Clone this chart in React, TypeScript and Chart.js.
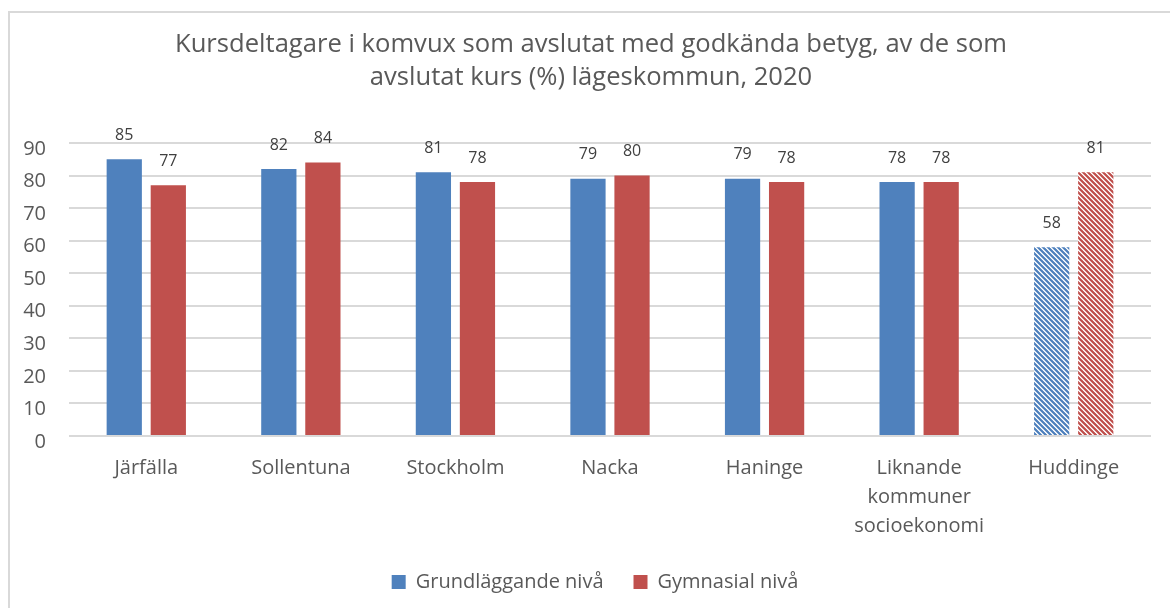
import React, { useEffect, useRef } from "react";
import { Chart, registerables } from "chart.js";

Chart.register(...registerables);

const categories: (string | string[])[] = [
  "Järfälla",
  "Sollentuna",
  "Stockholm",
  "Nacka",
  "Haninge",
  ["Liknande", "kommuner", "socioekonomi"],
  "Huddinge",
];
const grundValues = [85, 82, 81, 79, 79, 78, 58];
const gymnValues = [77, 84, 78, 80, 78, 78, 81];
const seriesNames = ["Grundläggande nivå", "Gymnasial nivå"];
const seriesColors = ["#4F81BD", "#C0504D"];
const hatchedCategory = "Huddinge";
const titleLines = [
  "Kursdeltagare i komvux som avslutat med godkända betyg, av de som",
  "avslutat kurs (%) lägeskommun, 2020",
];
const yMin = 0;
const yMax = 90;
const yStep = 10;

const FONT = "'Open Sans', 'Noto Sans', sans-serif";
const TEXT = "#595959";

function makeHatch(color: string): CanvasPattern | string {
  const n = 5;
  const c = document.createElement("canvas");
  c.width = n;
  c.height = n;
  const g = c.getContext("2d");
  if (!g) return color;
  g.fillStyle = "#ffffff";
  g.fillRect(0, 0, n, n);
  for (let y = 0; y < n; y++) {
    for (let x = 0; x < n; x++) {
      const d = (((x - y) % n) + n) % n;
      if (d < 2) {
        g.globalAlpha = 1;
        g.fillStyle = color;
        g.fillRect(x, y, 1, 1);
      } else if (d === 2) {
        g.globalAlpha = 0.85;
        g.fillStyle = color;
        g.fillRect(x, y, 1, 1);
      } else if (d === 4) {
        g.globalAlpha = 0.3;
        g.fillStyle = color;
        g.fillRect(x, y, 1, 1);
      }
    }
  }
  g.globalAlpha = 1;
  return g.createPattern(c, "repeat") || color;
}

export default function App() {
  const ref = useRef<HTMLCanvasElement | null>(null);

  useEffect(() => {
    if (!ref.current) return;
    const hatchIdx = categories.findIndex((c) => c === hatchedCategory);
    const colorsFor = (col: string) => {
      const pat = makeHatch(col);
      return categories.map((_, i) => (i === hatchIdx ? pat : col));
    };

    const framePlugin = {
      id: "frame",
      beforeDraw(chart: any) {
        const ctx = chart.ctx;
        ctx.save();
        ctx.fillStyle = "#ffffff";
        ctx.fillRect(0, 0, chart.width, chart.height);
        ctx.fillStyle = "#d9d9d9";
        ctx.fillRect(8, 11, 2, chart.height - 11);
        ctx.fillRect(8, 11, chart.width - 8, 2);
        ctx.restore();
      },
    };

    const titlePlugin = {
      id: "customTitle",
      afterDraw(chart: any) {
        const ctx = chart.ctx;
        ctx.save();
        ctx.font = `25.6px ${FONT}`;
        ctx.fillStyle = TEXT;
        ctx.textAlign = "center";
        ctx.textBaseline = "alphabetic";
        ctx.fillText(titleLines[0], 591, 52);
        ctx.fillText(titleLines[1], 591, 85);
        ctx.restore();
      },
    };

    const labelPlugin = {
      id: "valueLabels",
      afterDatasetsDraw(chart: any) {
        const ctx = chart.ctx;
        ctx.save();
        ctx.font = `16px ${FONT}`;
        ctx.fillStyle = "#404040";
        ctx.textAlign = "center";
        ctx.textBaseline = "middle";
        chart.data.datasets.forEach((ds: any, i: number) => {
          const meta = chart.getDatasetMeta(i);
          meta.data.forEach((el: any, j: number) => {
            ctx.fillText(String(ds.data[j]), el.x, el.y - 24);
          });
        });
        ctx.restore();
      },
    };

    const chart = new Chart(ref.current, {
      type: "bar",
      data: {
        labels: categories as any,
        datasets: [
          {
            label: seriesNames[0],
            data: grundValues,
            backgroundColor: colorsFor(seriesColors[0]) as any,
            categoryPercentage: 0.57,
            barPercentage: 0.8,
            yAxisID: "y",
          },
          {
            label: seriesNames[1],
            data: gymnValues,
            backgroundColor: colorsFor(seriesColors[1]) as any,
            categoryPercentage: 0.57,
            barPercentage: 0.8,
            yAxisID: "y",
          },
        ],
      },
      options: {
        animation: false,
        responsive: false,
        maintainAspectRatio: false,
        layout: { padding: { top: 143, right: 0, bottom: 6, left: 20 } },
        plugins: {
          title: { display: false },
          tooltip: { enabled: false },
          legend: {
            display: true,
            position: "bottom",
            labels: {
              boxWidth: 14,
              boxHeight: 14,
              padding: 30,
              color: TEXT,
              font: { family: FONT, size: 20 },
              generateLabels: () =>
                seriesNames.map((name, i) => ({
                  text: name,
                  fillStyle: seriesColors[i],
                  strokeStyle: seriesColors[i],
                  lineWidth: 0,
                  hidden: false,
                  datasetIndex: i,
                  fontColor: TEXT,
                })),
            },
          },
        },
        scales: {
          x: {
            grid: { display: false },
            border: { display: false },
            ticks: {
              color: TEXT,
              font: { family: FONT, size: 20, lineHeight: 1.45 },
              padding: 10,
              maxRotation: 0,
              minRotation: 0,
              autoSkip: false,
            },
            afterFit: (s: any) => {
              s.height = 106;
            },
          },
          y: {
            position: "left",
            min: yMin,
            max: yMax,
            grid: { color: "#d9d9d9", lineWidth: 2, drawTicks: false },
            border: { display: false },
            ticks: {
              stepSize: yStep,
              color: TEXT,
              font: { family: FONT, size: 20 },
              padding: 23,
              labelOffset: 6,
            },
            afterFit: (s: any) => {
              s.width = 49;
            },
          },
          y2: {
            position: "right",
            display: true,
            min: yMin,
            max: yMax,
            grid: { display: false },
            border: { display: false },
            ticks: { display: false },
            afterFit: (s: any) => {
              s.width = 19;
            },
          },
        },
      },
      plugins: [framePlugin, titlePlugin, labelPlugin],
    });
    return () => chart.destroy();
  }, []);

  return (
    <div style={{ position: "absolute", left: 0, top: 0, width: 1170, height: 608 }}>
      <canvas ref={ref} width={1170} height={608} style={{ display: "block", width: 1170, height: 608 }} />
    </div>
  );
}
